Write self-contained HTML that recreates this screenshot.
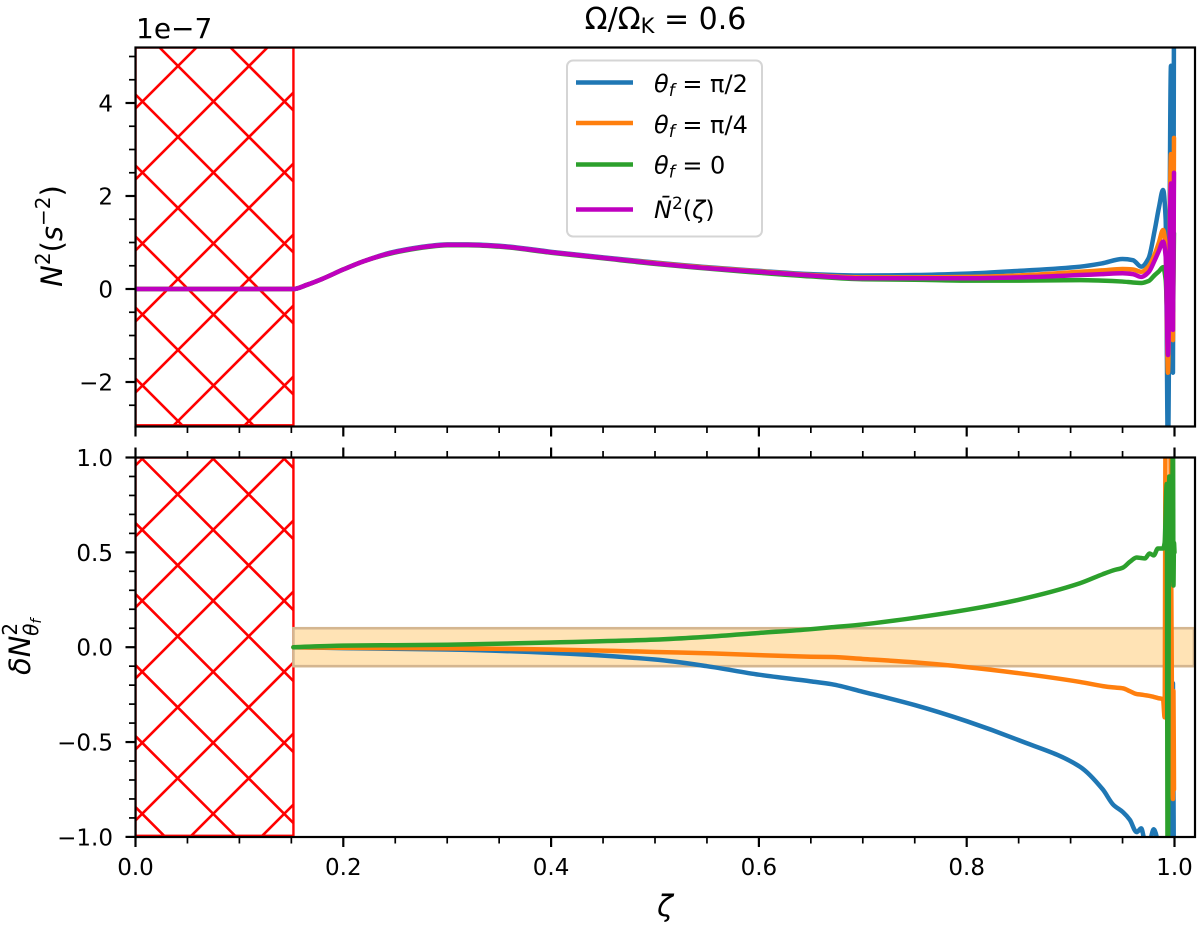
<!DOCTYPE html>
<html>
<head>
<meta charset="utf-8">
<title>Buoyancy frequency chart</title>
<style>
html,body{margin:0;padding:0;background:#fff;overflow:hidden;}
svg{display:block;}
text{font-family:"DejaVu Sans","Liberation Sans",sans-serif;fill:#000;}
</style>
</head>
<body>
<svg id="chart" xmlns="http://www.w3.org/2000/svg" width="1200" height="930" viewBox="0 0 1200 930">
  <defs>
    <clipPath id="clip-top"><rect x="135.5" y="47.5" width="1059.5" height="379"/></clipPath>
    <clipPath id="clip-bottom"><rect x="135.5" y="457.5" width="1059.5" height="379.5"/></clipPath>
  </defs>
  <g id="top-plot" clip-path="url(#clip-top)"></g>
  <g id="bottom-plot" clip-path="url(#clip-bottom)"></g>
  <g id="axes"></g>

  <text x="665.5" y="29" font-size="30" text-anchor="middle">Ω/Ω<tspan font-size="21" dy="4">K</tspan><tspan dy="-4"> = 0.6</tspan></text>
  <text x="136" y="38" font-size="28">1e−7</text>
  <text transform="translate(62,236) rotate(-90)" font-size="29" text-anchor="middle"><tspan font-style="italic">N</tspan><tspan font-size="20" dy="-12">2</tspan><tspan dy="12">(</tspan><tspan font-style="italic">s</tspan><tspan font-size="20" dy="-12">−2</tspan><tspan dy="12">)</tspan></text>
  <text transform="translate(30,675) rotate(-90)" font-size="29"><tspan font-style="italic">δN</tspan><tspan font-size="20" dy="-13">2</tspan><tspan font-size="20" font-style="italic" dx="-13" dy="21">θ</tspan><tspan font-size="14" font-style="italic" dy="3">f</tspan></text>
  <text x="665" y="916" font-size="29" font-style="italic" text-anchor="middle">ζ</text>

  <g>
    <rect x="567" y="60.5" width="195" height="176" rx="6" ry="6" fill="#fff" fill-opacity="0.8" stroke="#d5d5d5" stroke-width="2"/>
    <g>
      <line x1="576" x2="633" y1="82.5" y2="82.5" stroke="#1f77b4" stroke-width="4.5"/>
      <text x="654" y="92" font-size="24"><tspan font-style="italic">θ</tspan><tspan font-style="italic" font-size="17" dy="4">f</tspan><tspan dy="-4"> = π/2</tspan></text>
    </g>
    <g>
      <line x1="576" x2="633" y1="123" y2="123" stroke="#ff7f0e" stroke-width="4.5"/>
      <text x="654" y="133" font-size="24"><tspan font-style="italic">θ</tspan><tspan font-style="italic" font-size="17" dy="4">f</tspan><tspan dy="-4"> = π/4</tspan></text>
    </g>
    <g>
      <line x1="576" x2="633" y1="164.5" y2="164.5" stroke="#2ca02c" stroke-width="4.5"/>
      <text x="654" y="173.5" font-size="24"><tspan font-style="italic">θ</tspan><tspan font-style="italic" font-size="17" dy="4">f</tspan><tspan dy="-4"> = 0</tspan></text>
    </g>
    <g>
      <line x1="576" x2="633" y1="209.5" y2="209.5" stroke="#bf00bf" stroke-width="4.5"/>
      <text x="654" y="218" font-size="24"><tspan font-style="italic">N̄</tspan><tspan font-size="17" dy="-9">2</tspan><tspan dy="9">(</tspan><tspan font-style="italic">ζ</tspan><tspan>)</tspan></text>
    </g>
  </g>
</svg>
<script>
// ---------- chart data ----------
const zetaShared = [0,0.152,0.165,0.18,0.2,0.22,0.245,0.26,0.28,0.3,0.32,0.35,0.4,0.45,0.5,0.55,0.6,0.65,0.7,0.75,0.8,0.85,0.909,0.93,0.95,0.96,0.968,0.975,0.981,0.985,0.989];
const zetaTail = [0.9915,0.9937,0.9966,0.9985,0.9995];
const n2Blue = [0,0,0.09,0.22,0.42,0.6,0.78,0.85,0.92,0.96,0.96,0.93,0.8,0.68,0.57,0.47,0.39,0.32,0.29,0.30,0.33,0.39,0.48,0.55,0.645,0.62,0.48,0.66,1.27,1.75,2.13];
const n2BlueTail = [1.5,-3.5,4.8,-1.8,6];
const n2Orange = [0,0,0.09,0.22,0.42,0.6,0.77,0.84,0.91,0.95,0.95,0.92,0.79,0.67,0.56,0.46,0.38,0.30,0.25,0.25,0.26,0.29,0.37,0.40,0.43,0.42,0.37,0.48,0.75,1.0,1.27];
const n2OrangeTail = [0.9,-1.8,2.9,-1.1,3.25];
const n2Green = [0,0,0.09,0.22,0.42,0.6,0.76,0.83,0.9,0.94,0.94,0.91,0.78,0.66,0.54,0.44,0.35,0.27,0.21,0.20,0.18,0.18,0.19,0.18,0.16,0.14,0.13,0.17,0.30,0.38,0.47];
const n2GreenTail = [0.2,-0.9,1.2,-0.5,1.2];
const n2Mean = [0,0,0.09,0.22,0.42,0.6,0.77,0.84,0.91,0.95,0.95,0.92,0.79,0.67,0.55,0.45,0.37,0.29,0.23,0.23,0.23,0.25,0.30,0.32,0.34,0.32,0.26,0.36,0.62,0.82,1.02];
const n2MeanTail = [0.7,-1.42,2.27,-0.88,2.5];

const zetaDelta = [0.152,0.2,0.3,0.4,0.5,0.55,0.6,0.65,0.67,0.7,0.75,0.8,0.85,0.909,0.931,0.941,0.9505,0.957,0.9636,0.968,0.9716,0.976,0.98,0.984,0.989];
const deltaBlue = [0,-0.005,-0.012,-0.03,-0.065,-0.1,-0.145,-0.18,-0.195,-0.235,-0.305,-0.39,-0.49,-0.63,-0.75,-0.83,-0.87,-0.91,-0.975,-0.955,-1.02,-1.02,-0.96,-1.03,-1.3];
const deltaBlueTailZeta = [0.9945,0.9965,0.9975,0.9985,0.9995];
const deltaBlueTail = [-1.4,-0.55,-1.4,-0.19,-1.4];
const deltaOrange = [0,-0.003,-0.006,-0.012,-0.025,-0.032,-0.042,-0.05,-0.052,-0.062,-0.08,-0.105,-0.137,-0.183,-0.205,-0.212,-0.217,-0.232,-0.247,-0.25,-0.253,-0.257,-0.262,-0.268,-0.275];
const deltaOrangeTailZeta = [0.9905,0.9915,0.9955,0.9985,0.999,0.9995];
const deltaOrangeTail = [-0.37,1.3,1.3,-0.8,-0.23,-0.75];
const deltaGreen = [0,0.008,0.013,0.025,0.04,0.055,0.075,0.095,0.105,0.12,0.155,0.197,0.25,0.337,0.385,0.405,0.42,0.45,0.473,0.47,0.468,0.494,0.484,0.52,0.52];
const deltaGreenTailZeta = [0.9905,0.9925,0.9935,0.995,0.9955,0.9965,0.9975,0.9985,0.999,0.9995,1];
const deltaGreenTail = [0.55,0.86,-1.4,0.9,0.35,0.85,0.45,1.2,0.325,0.55,0.5];

const excludedZeta = 0.152;
const bandHalfWidth = 0.1;
const xTickValues = [0,0.2,0.4,0.6,0.8,1];
const xTickLabels = ['0.0','0.2','0.4','0.6','0.8','1.0'];
const topYTickValues = [-2,0,2,4];
const topYTickLabels = ['−2','0','2','4'];
const bottomYTickValues = [-1,-0.5,0,0.5,1];
const bottomYTickLabels = ['−1.0','−0.5','0.0','0.5','1.0'];

// ---------- scales ----------
const xScale = z => 135.5 + 1039 * z;
const yTop = v => 289 - 46.5 * v;
const yBottom = v => 647.2 - 189.7 * v;

const NS = 'http://www.w3.org/2000/svg';
function make(tag, attrs, parent) {
  const el = document.createElementNS(NS, tag);
  for (const k in attrs) el.setAttribute(k, attrs[k]);
  parent.appendChild(el);
  return el;
}
const topPlot = document.getElementById('top-plot');
const bottomPlot = document.getElementById('bottom-plot');
const axes = document.getElementById('axes');

// ---------- hatched excluded regions ----------
function drawHatch(parent, yMinPx, yMaxPx, diffPhase, sumPhase) {
  const g = make('g', {}, parent);
  
  
  const p = 71;
  const xL = xScale(0);
  const xR = xScale(excludedZeta);
  for (let d = diffPhase - 71 * 12; d < xR - yMinPx; d += p) {
    const a = Math.max(xL, d + yMinPx);
    const b = Math.min(xR, d + yMaxPx);
    if (b <= a) continue;
    const down = make('line', {x1: a, y1: a - d, x2: b, y2: b - d, stroke: '#ff0000', 'stroke-width': 2.6}, g);
    
    
  }
  for (let s = sumPhase; s < xR + yMaxPx + p; s += p) {
    const a = Math.max(xL, s - yMaxPx);
    const b = Math.min(xR, s - yMinPx);
    if (b <= a) continue;
    const up = make('line', {x1: a, y1: s - a, x2: b, y2: s - b, stroke: '#ff0000', 'stroke-width': 2.6}, g);
    
    
  }
}
function drawEdge(parent, yA, yB) {
  const r = make('rect', {x: xScale(0), y: yA, width: xScale(excludedZeta) - xScale(0), height: yB - yA - 1.2, fill: 'none', stroke: '#ff0000', 'stroke-width': 2.4}, parent);
  
  
}
drawHatch(topPlot, 47.5, 426.5, 41, 31);
drawEdge(topPlot, 47.5, 426.5);
drawHatch(bottomPlot, 457.5, 837, 38.4, 33);
drawEdge(bottomPlot, 457.5, 837);

// ---------- tolerance band ----------
const band = make('rect', {x: xScale(excludedZeta), y: yBottom(bandHalfWidth), width: 1194 - xScale(excludedZeta), height: yBottom(-bandHalfWidth) - yBottom(bandHalfWidth), fill: '#ffe3b5', stroke: '#d4b690', 'stroke-width': 2.6}, bottomPlot);



// ---------- series (monotone cubic through the read points) ----------
function curvePath(px, py) {
  const n = px.length;
  const h = [], sl = [], m = new Array(n).fill(0);
  for (let i = 0; i < n - 1; i++) {
    h[i] = px[i + 1] - px[i];
    sl[i] = (py[i + 1] - py[i]) / h[i];
  }
  m[0] = sl[0];
  m[n - 1] = sl[n - 2];
  for (let i = 1; i < n - 1; i++) {
    if (sl[i - 1] * sl[i] <= 0) {
      m[i] = 0;
    } else {
      const w1 = 2 * h[i] + h[i - 1];
      const w2 = h[i] + 2 * h[i - 1];
      m[i] = (w1 + w2) / (w1 / sl[i - 1] + w2 / sl[i]);
    }
  }
  let d = 'M' + px[0].toFixed(2) + ' ' + py[0].toFixed(2);
  for (let i = 0; i < n - 1; i++) {
    const t = h[i] / 3;
    d += 'C' + (px[i] + t).toFixed(2) + ' ' + (py[i] + m[i] * t).toFixed(2) + ' ' +
         (px[i + 1] - t).toFixed(2) + ' ' + (py[i + 1] - m[i + 1] * t).toFixed(2) + ' ' +
         px[i + 1].toFixed(2) + ' ' + py[i + 1].toFixed(2);
  }
  return d;
}
function drawSeries(parent, xs, ys, yFn, color) {
  const d = curvePath(xs.map(xScale), ys.map(yFn));
  return make('path', {d: d, fill: 'none', stroke: color, 'stroke-width': 4.5, 'stroke-linejoin': 'round', 'stroke-linecap': 'round'}, parent);
}
const zetaTopAll = zetaShared.concat(zetaTail);
const s1 = drawSeries(topPlot, zetaTopAll, n2Blue.concat(n2BlueTail), yTop, '#1f77b4');


const s2 = drawSeries(topPlot, zetaTopAll, n2Orange.concat(n2OrangeTail), yTop, '#ff7f0e');


const s3 = drawSeries(topPlot, zetaTopAll, n2Green.concat(n2GreenTail), yTop, '#2ca02c');


const s4 = drawSeries(topPlot, zetaTopAll, n2Mean.concat(n2MeanTail), yTop, '#bf00bf');



const d1 = drawSeries(bottomPlot, zetaDelta.concat(deltaBlueTailZeta), deltaBlue.concat(deltaBlueTail), yBottom, '#1f77b4');


const d2 = drawSeries(bottomPlot, zetaDelta.concat(deltaOrangeTailZeta), deltaOrange.concat(deltaOrangeTail), yBottom, '#ff7f0e');


const d3 = drawSeries(bottomPlot, zetaDelta.concat(deltaGreenTailZeta), deltaGreen.concat(deltaGreenTail), yBottom, '#2ca02c');



// ---------- axes ----------
function tick(x1, y1, x2, y2, w) {
  const t = make('line', {x1: x1, y1: y1, x2: x2, y2: y2, stroke: '#000', 'stroke-width': w}, axes);
  
  
}
function frame(yA, yB, name) {
  const r = make('rect', {x: 135.5, y: yA, width: 1059.5, height: yB - yA, fill: 'none', stroke: '#000', 'stroke-width': 2.2}, axes);
  
  
}
frame(47.5, 426.5, 'top-panel-frame');
frame(457.5, 837, 'bottom-panel-frame');

// x ticks
for (let i = 0; i <= 20; i++) {
  const z = i * 0.05;
  const major = i % 4 === 0;
  const len = major ? 10 : 6.5;
  const w = major ? 2.2 : 1.7;
  const x = xScale(z);
  tick(x, 426.5, x, 426.5 + len, w);
  tick(x, 457.5, x, 457.5 - len, w);
  tick(x, 837, x, 837 + len, w);
}
xTickValues.forEach((v, i) => {
  const t = make('text', {x: xScale(v), y: 875, 'font-size': 23, 'text-anchor': 'middle'}, axes);
  t.textContent = xTickLabels[i];
  
  
});

// y ticks, top panel
for (let i = -5; i <= 10; i++) {
  const v = i * 0.5;
  const y = yTop(v);
  if (y < 47 || y > 427) continue;
  const major = i % 4 === 0;
  tick(135.5, y, 135.5 - (major ? 10 : 6.5), y, major ? 2.2 : 1.7);
}
topYTickValues.forEach((v, i) => {
  const t = make('text', {x: 113, y: yTop(v) + 8.4, 'font-size': 23, 'text-anchor': 'end'}, axes);
  t.textContent = topYTickLabels[i];
  
  
});

// y ticks, bottom panel
for (let i = -10; i <= 10; i++) {
  const v = i * 0.1;
  const major = i % 5 === 0;
  const y = yBottom(v);
  tick(135.5, y, 135.5 - (major ? 10 : 6.5), y, major ? 2.2 : 1.7);
}
bottomYTickValues.forEach((v, i) => {
  const t = make('text', {x: 113, y: yBottom(v) + 8.4, 'font-size': 23, 'text-anchor': 'end'}, axes);
  t.textContent = bottomYTickLabels[i];
  
  
});
</script>
</body>
</html>
